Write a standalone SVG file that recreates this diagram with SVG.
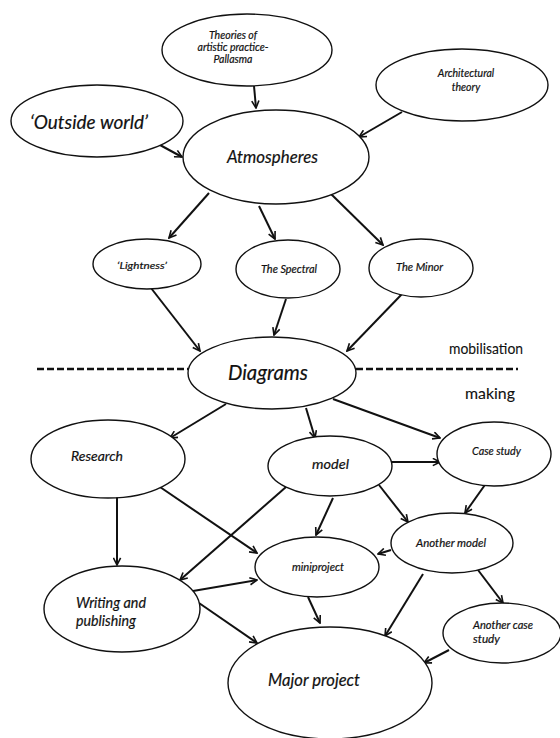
<svg xmlns="http://www.w3.org/2000/svg" width="560" height="738" viewBox="0 0 560 738">
<style>
  .node ellipse { fill: #ffffff; stroke: #111111; stroke-width: 1.4; }
  .t { font-family: Lato, "Open Sans", "Liberation Sans", sans-serif; font-style: italic; fill: #111111; stroke: #111111; stroke-width: 0.2; }
  .lbl { font-family: Lato, "Open Sans", "Liberation Sans", sans-serif; fill: #111111; stroke: #111111; stroke-width: 0.1; }
  #connectors line { stroke: #111111; stroke-width: 2; marker-end: url(#arrow); }
  .dash { stroke: #111111; stroke-width: 2.5; stroke-dasharray: 7 3; }
</style>
<defs>
  <marker id="arrow" viewBox="0 0 10 10" refX="9" refY="5" markerWidth="9" markerHeight="9" markerUnits="userSpaceOnUse" orient="auto">
    <path d="M1,1 L9,5 L1,9" fill="none" stroke="#111111" stroke-width="1.8"/>
  </marker>
</defs>
<rect width="560" height="738" fill="#ffffff"/>

<g id="divider">
  <line class="dash" x1="37" y1="369" x2="188" y2="369"/>
  <line class="dash" x1="356" y1="369" x2="518" y2="369"/>
  <text class="lbl" x="449" y="354" font-size="16" textLength="74" lengthAdjust="spacingAndGlyphs">mobilisation</text>
  <text class="lbl" x="465" y="399" font-size="16" textLength="50" lengthAdjust="spacingAndGlyphs">making</text>
</g>

<g id="connectors">
  <line x1="254" y1="86" x2="256" y2="108"/>
  <line x1="160" y1="145" x2="182" y2="157"/>
  <line x1="402" y1="112" x2="359" y2="137"/>
  <line x1="209" y1="193" x2="169" y2="238"/>
  <line x1="259" y1="206" x2="275" y2="239"/>
  <line x1="330" y1="193" x2="383" y2="245"/>
  <line x1="151" y1="288" x2="200" y2="351"/>
  <line x1="286" y1="299" x2="274" y2="335"/>
  <line x1="402" y1="294" x2="347" y2="351"/>
  <line x1="226" y1="404" x2="170" y2="438"/>
  <line x1="306" y1="408" x2="315" y2="438"/>
  <line x1="333" y1="399" x2="440" y2="438"/>
  <line x1="391" y1="462" x2="440" y2="462"/>
  <line x1="487" y1="482" x2="465" y2="513"/>
  <line x1="379" y1="485" x2="408" y2="522"/>
  <line x1="333" y1="498" x2="316" y2="535"/>
  <line x1="117" y1="497" x2="117" y2="565"/>
  <line x1="160" y1="487" x2="257" y2="553"/>
  <line x1="286" y1="487" x2="180" y2="580"/>
  <line x1="193" y1="591" x2="257" y2="580"/>
  <line x1="199" y1="603" x2="257" y2="643"/>
  <line x1="308" y1="597" x2="320" y2="623"/>
  <line x1="391" y1="550" x2="378" y2="554"/>
  <line x1="423" y1="574" x2="385" y2="636"/>
  <line x1="478" y1="570" x2="503" y2="603"/>
  <line x1="449" y1="650" x2="424" y2="663"/>
</g>

<g id="theories" class="node">
  <ellipse cx="247" cy="50" rx="85" ry="36"/>
  <text class="t" font-size="10.5" text-anchor="middle" x="233" y="39">Theories of</text>
  <text class="t" font-size="10.5" text-anchor="middle" x="233" y="51">artistic practice-</text>
  <text class="t" font-size="10.5" text-anchor="middle" x="233" y="63">Pallasma</text>
</g>
<g id="architectural" class="node">
  <ellipse cx="462" cy="85" rx="86" ry="36"/>
  <text class="t" font-size="10.5" text-anchor="middle" x="466" y="77">Architectural</text>
  <text class="t" font-size="10.5" text-anchor="middle" x="466" y="91">theory</text>
</g>
<g id="outside" class="node">
  <ellipse cx="97" cy="121" rx="86" ry="36"/>
  <text class="t" font-size="20" x="30" y="129" textLength="118" lengthAdjust="spacingAndGlyphs">‘Outside world’</text>
</g>
<g id="atmospheres" class="node">
  <ellipse cx="276" cy="157" rx="93" ry="47"/>
  <text class="t" font-size="18" x="227" y="163" textLength="91" lengthAdjust="spacingAndGlyphs">Atmospheres</text>
</g>
<g id="lightness" class="node">
  <ellipse cx="147" cy="264" rx="54" ry="25"/>
  <text class="t" font-size="10" x="117" y="269" textLength="50" lengthAdjust="spacingAndGlyphs">‘Lightness’</text>
</g>
<g id="spectral" class="node">
  <ellipse cx="288" cy="269" rx="52" ry="29"/>
  <text class="t" font-size="10.5" x="261" y="273" textLength="56" lengthAdjust="spacingAndGlyphs">The Spectral</text>
</g>
<g id="minor" class="node">
  <ellipse cx="421" cy="268" rx="52" ry="29"/>
  <text class="t" font-size="10.5" x="396" y="271" textLength="47" lengthAdjust="spacingAndGlyphs">The Minor</text>
</g>
<g id="diagrams" class="node">
  <ellipse cx="272" cy="373" rx="84" ry="36"/>
  <text class="t" font-size="22" x="228" y="380" textLength="80" lengthAdjust="spacingAndGlyphs">Diagrams</text>
</g>
<g id="research" class="node">
  <ellipse cx="108" cy="459" rx="77" ry="39"/>
  <text class="t" font-size="14" x="71" y="461" textLength="52" lengthAdjust="spacingAndGlyphs">Research</text>
</g>
<g id="model" class="node">
  <ellipse cx="330" cy="466" rx="62" ry="30"/>
  <text class="t" font-size="14" x="312" y="469" textLength="37" lengthAdjust="spacingAndGlyphs">model</text>
</g>
<g id="casestudy" class="node">
  <ellipse cx="494" cy="454" rx="57" ry="32"/>
  <text class="t" font-size="10.5" x="472" y="455" textLength="49" lengthAdjust="spacingAndGlyphs">Case study</text>
</g>
<g id="anothermodel" class="node">
  <ellipse cx="452" cy="543" rx="61" ry="30"/>
  <text class="t" font-size="11" x="416" y="547" textLength="70" lengthAdjust="spacingAndGlyphs">Another model</text>
</g>
<g id="miniproject" class="node">
  <ellipse cx="317" cy="567" rx="62" ry="30"/>
  <text class="t" font-size="11" x="292" y="571" textLength="52" lengthAdjust="spacingAndGlyphs">miniproject</text>
</g>
<g id="writing" class="node">
  <ellipse cx="122" cy="609" rx="78" ry="43"/>
  <text class="t" font-size="15" x="76" y="608" textLength="70" lengthAdjust="spacingAndGlyphs">Writing and</text>
  <text class="t" font-size="15" x="76" y="626" textLength="60" lengthAdjust="spacingAndGlyphs">publishing</text>
</g>
<g id="anothercase" class="node">
  <ellipse cx="502" cy="633" rx="59" ry="30"/>
  <text class="t" font-size="11" x="473" y="629" textLength="60" lengthAdjust="spacingAndGlyphs">Another case</text>
  <text class="t" font-size="11" x="473" y="643" textLength="27" lengthAdjust="spacingAndGlyphs">study</text>
</g>
<g id="major" class="node">
  <ellipse cx="330" cy="683" rx="102" ry="56"/>
  <text class="t" font-size="18" x="268" y="686" textLength="92" lengthAdjust="spacingAndGlyphs">Major project</text>
</g>
</svg>
